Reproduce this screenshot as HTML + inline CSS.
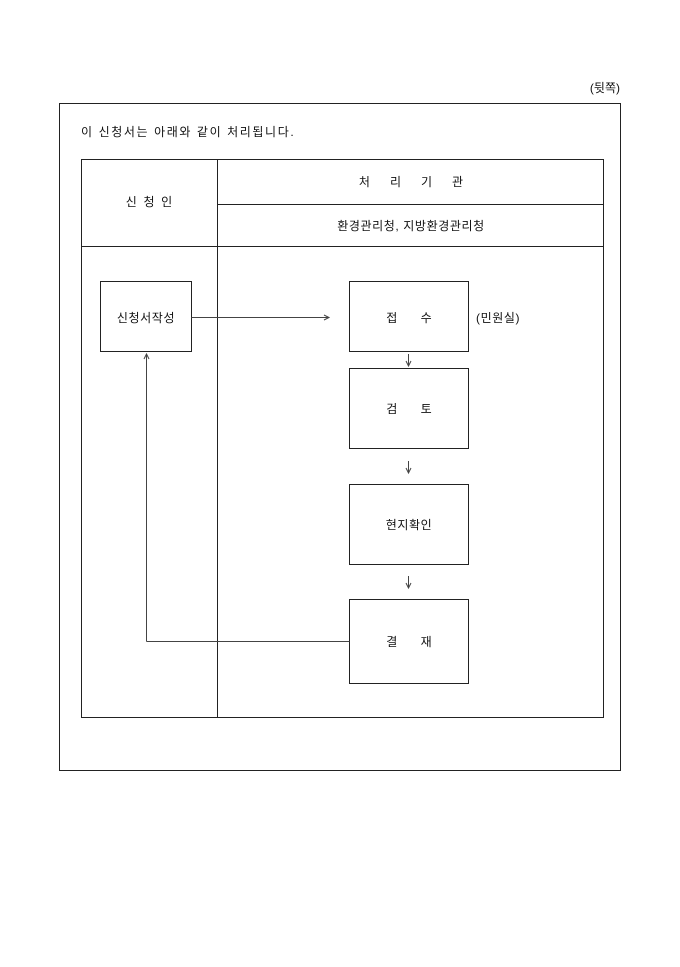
<!DOCTYPE html>
<html><head><meta charset="utf-8"><style>
html,body{margin:0;padding:0;background:#fff;}
svg text{font-family:"Liberation Sans","Noto Sans CJK KR","NanumGothic",sans-serif;font-size:12px;fill:#111;}
</style></head><body>
<svg width="680" height="962" viewBox="0 0 680 962" xmlns="http://www.w3.org/2000/svg">
<g fill="none" stroke="#222" stroke-width="1">
<rect x="59.5" y="103.5" width="561" height="667"/>
<rect x="81.5" y="159.5" width="522" height="558"/>
<line x1="217.5" y1="159.5" x2="217.5" y2="717.5"/>
<line x1="217.5" y1="204.5" x2="603.5" y2="204.5"/>
<line x1="81.5" y1="246.5" x2="603.5" y2="246.5"/>
<rect x="100.5" y="281.5" width="91" height="70"/>
<rect x="349.5" y="281.5" width="119" height="70"/>
<rect x="349.5" y="368.5" width="119" height="80"/>
<rect x="349.5" y="484.5" width="119" height="80"/>
<rect x="349.5" y="599.5" width="119" height="84"/>
<g stroke="#444">
<line x1="191.5" y1="317.5" x2="329" y2="317.5"/>
<path d="M324 315 L329 317.5 L324 320"/>
<line x1="146.5" y1="641.5" x2="349.5" y2="641.5"/>
<line x1="146.5" y1="641.5" x2="146.5" y2="354"/>
<path d="M144 359 L146.5 354 L149 359"/>
<line x1="408.5" y1="354" x2="408.5" y2="366"/>
<path d="M406 361 L408.5 366 L411 361"/>
<line x1="408.5" y1="461" x2="408.5" y2="473"/>
<path d="M406 468 L408.5 473 L411 468"/>
<line x1="408.5" y1="576" x2="408.5" y2="588"/>
<path d="M406 583 L408.5 588 L411 583"/>
</g>
</g>
<text x="620" y="92" text-anchor="end">(뒷쪽)</text>
<text x="81" y="136" letter-spacing="1.6">이 신청서는 아래와 같이 처리됩니다.</text>
<text x="411" y="186" text-anchor="middle" xml:space="preserve">처      리      기      관</text>
<text x="149" y="206" text-anchor="middle" xml:space="preserve">신  청  인</text>
<text x="411" y="230" text-anchor="middle" letter-spacing="0.6">환경관리청, 지방환경관리청</text>
<text x="146" y="322" text-anchor="middle" letter-spacing="0.6">신청서작성</text>
<text x="409" y="322" text-anchor="middle" xml:space="preserve">접       수</text>
<text x="476" y="322" letter-spacing="0.6">(민원실)</text>
<text x="409" y="413" text-anchor="middle" xml:space="preserve">검       토</text>
<text x="409" y="529" text-anchor="middle" letter-spacing="0.6">현지확인</text>
<text x="409" y="646" text-anchor="middle" xml:space="preserve">결       재</text>
</svg>
</body></html>
